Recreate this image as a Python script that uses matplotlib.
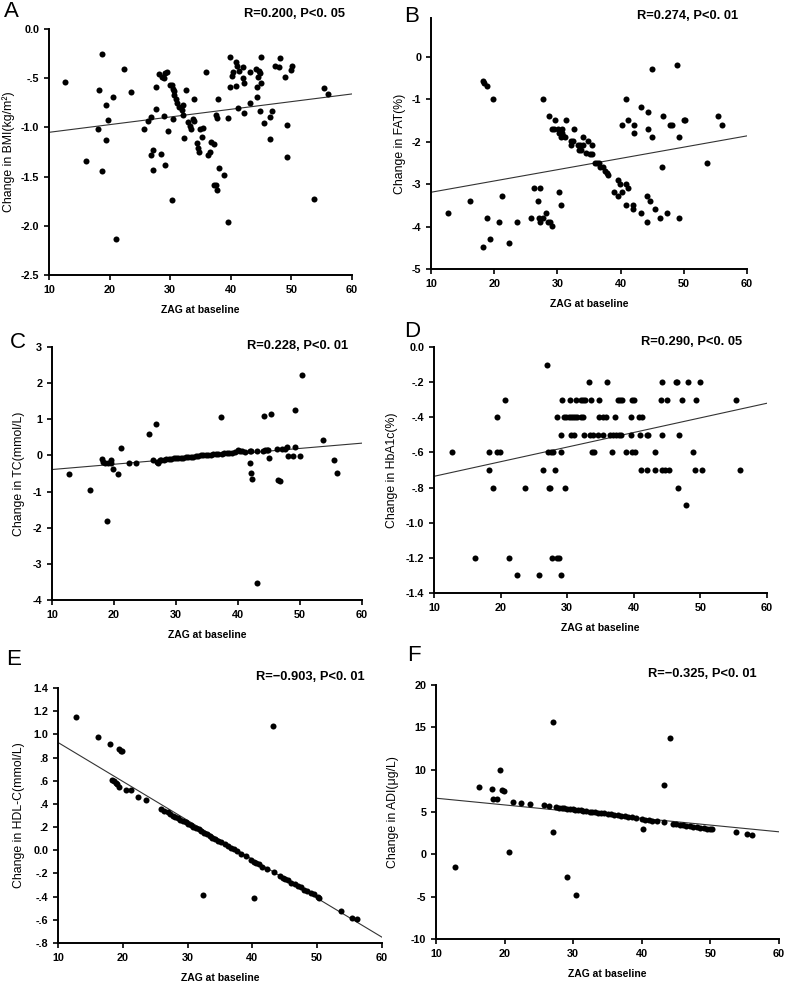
import numpy as np
import matplotlib
matplotlib.use("Agg")
import matplotlib.pyplot as plt

plt.rcParams['font.family'] = ['Liberation Sans', 'DejaVu Sans']

# ---- panel A: BMI ----
a_x = [12.7, 16.05, 18.2, 18.1, 18.75, 18.75, 19.35, 19.35, 19.8, 20.6, 21.1, 22.3, 23.6, 25.7,
       26.3, 26.9, 26.8, 27.2, 27.2, 27.7, 27.65, 28.15, 28.4, 28.6, 29.0, 29.2, 28.9, 29.2, 29.4,
       29.6, 30.0, 30.35, 30.45, 30.45, 30.35, 30.6, 30.7, 30.9, 31.2, 31.45, 31.9, 32.1, 32.1,
       32.3, 32.55, 33.0, 33.2, 33.5, 33.7, 33.9, 34.0, 34.5, 34.6, 34.8, 34.9, 35.4, 35.3, 35.95,
       36.2, 36.5, 36.8, 37.2, 37.2, 37.5, 37.7, 37.6, 37.7, 37.95, 38.05, 38.8, 39.6, 39.6, 39.8,
       39.8, 40.2, 40.4, 40.8, 40.9, 41.1, 41.2, 41.3, 41.95, 41.95, 42.1, 42.2, 43.2, 43.2, 44.15,
       44.3, 44.4, 44.5, 44.65, 44.8, 45.0, 45.0, 44.8, 45.4, 46.4, 46.5, 46.8, 47.35, 47.95, 48.2,
       48.95, 49.3, 49.3, 50.0, 50.1, 53.8, 55.4, 56.0]
a_y = [-0.54, -1.34, -0.62, -1.02, -0.25, -1.44, -0.77, -1.13, -0.92, -0.69, -2.13, -0.41, -0.64,
       -1.02, -0.93, -0.89, -1.28, -1.23, -1.43, -0.59, -0.81, -0.46, -1.27, -0.49, -0.88, -1.38,
       -0.50, -0.45, -0.44, -1.04, -0.57, -0.57, -0.61, -0.91, -1.74, -0.63, -0.67, -0.71, -0.75,
       -0.79, -0.82, -0.77, -0.87, -1.11, -0.62, -0.95, -0.99, -1.02, -0.91, -0.71, -0.93, -1.16,
       -1.21, -1.25, -1.02, -1.01, -1.10, -0.44, -1.28, -1.25, -1.15, -1.17, -1.59, -1.59, -1.64,
       -0.87, -0.90, -0.71, -1.41, -1.48, -0.90, -1.96, -0.28, -0.59, -0.48, -0.44, -0.58, -0.34,
       -0.38, -0.80, -0.43, -0.39, -0.50, -0.55, -0.85, -0.75, -0.44, -0.41, -0.69, -0.59, -0.49,
       -0.43, -0.83, -0.28, -0.55, -0.45, -0.96, -1.12, -0.89, -0.83, -0.38, -0.39, -0.29, -0.49,
       -0.98, -1.30, -0.42, -0.38, -1.73, -0.60, -0.66]
a_fit = [-1.05, -0.66]

# ---- panel B: FAT ----
b_x = [12.7, 16.1, 18.2, 18.4, 18.8, 18.2, 18.8, 19.4, 19.85, 20.7, 21.2, 22.4, 23.6, 25.75, 26.3,
       27.0, 27.1, 27.3, 27.3, 27.75, 27.75, 28.2, 28.5, 28.65, 28.9, 29.1, 29.2, 29.5, 29.6, 30.1,
       30.3, 30.5, 30.3, 30.5, 30.65, 30.75, 30.9, 31.2, 31.3, 32.1, 32.2, 32.4, 32.6, 33.2, 33.4,
       33.65, 33.8, 34.0, 34.1, 34.5, 34.9, 35.1, 35.4, 35.5, 35.9, 36.2, 36.6, 36.8, 37.2, 37.5,
       37.9, 38.0, 38.9, 39.6, 39.6, 39.9, 40.2, 40.2, 40.9, 40.8, 41.1, 40.8, 41.1, 41.9, 42.0,
       42.1, 42.1, 43.2, 43.2, 44.1, 44.2, 44.4, 44.3, 44.7, 45.0, 45.0, 45.4, 46.3, 46.6, 46.7,
       47.3, 47.8, 48.1, 48.9, 49.3, 49.3, 50.0, 50.25, 53.7, 55.4, 56.05]
b_y = [-3.69, -3.40, -0.57, -0.61, -0.68, -4.49, -3.80, -4.29, -0.99, -3.90, -3.29, -4.39, -3.90,
       -3.80, -3.10, -3.40, -3.80, -3.10, -3.90, -3.80, -0.99, -3.69, -3.90, -1.39, -3.90, -1.69,
       -3.99, -1.69, -1.48, -1.69, -3.19, -3.50, -1.79, -1.89, -1.69, -1.79, -1.87, -1.89, -1.48,
       -1.99, -2.08, -1.99, -1.69, -2.08, -2.19, -2.08, -2.19, -2.08, -1.89, -2.27, -1.98, -2.29,
       -2.29, -2.08, -2.49, -2.49, -2.49, -2.59, -2.59, -2.68, -2.74, -2.79, -3.19, -2.89, -3.29,
       -2.99, -3.19, -1.60, -0.99, -2.99, -3.10, -3.50, -1.48, -3.50, -3.58, -1.60, -1.79, -3.69,
       -1.19, -3.90, -3.29, -1.29, -1.69, -3.40, -1.89, -0.28, -3.58, -3.80, -2.59, -1.39, -3.69,
       -1.60, -1.60, -0.19, -1.89, -3.80, -1.48, -1.48, -2.49, -1.39, -1.60]
b_fit = [-3.19, -1.86]

# ---- panel C: TC ----
c_x = [12.7, 16.1, 18.1, 18.3, 18.5, 18.9, 19.1, 19.5, 19.5, 19.8, 20.6, 21.2, 22.4, 23.6, 25.7,
       26.3, 26.8, 26.9, 27.15, 27.4,
       27.6, 28.0, 28.4, 28.8, 29.2, 29.6, 30.0, 30.4, 30.8, 31.2, 31.6, 32.0, 32.4, 32.8, 33.2,
       33.6, 34.0, 34.4, 34.8, 35.2, 35.6, 36.0, 36.4, 36.8, 37.4, 37.8, 38.2, 38.6, 39.0, 39.5,
       37.2, 40.05, 40.3, 40.65, 41.1, 41.9, 42.0, 42.15, 42.2, 42.15, 43.1, 43.1, 44.0, 44.2,
       44.35, 44.6, 44.85, 45.0, 45.4, 46.3, 46.5, 46.8, 47.15, 47.5, 47.95, 48.1, 48.95, 49.25,
       49.25, 50.05, 50.3, 53.65, 55.5, 55.95]
c_y = [-0.51, -0.96, -0.09, -0.18, -0.22, -1.81, -0.20, -0.13, -0.20, -0.38, -0.52, 0.21, -0.20,
       -0.20, 0.58, -0.12, 0.86, -0.18, -0.22, -0.13,
       -0.13, -0.12, -0.11, -0.10, -0.09, -0.08, -0.08, -0.07, -0.06, -0.06, -0.05, -0.04, -0.03,
       -0.03, -0.02, -0.01, 0.00, 0.00, 0.01, 0.02, 0.02, 0.03, 0.04, 0.05, 0.05, 0.06, 0.07, 0.07,
       0.08, 0.09,
       1.06, 0.14, 0.11, 0.11, 0.10, 0.11, -0.20, -0.50, -0.65, 0.11, 0.13, -3.54, 0.13, 1.09,
       0.14, 0.14, 0.14, -0.06, 1.15, 0.18, -0.68, -0.70, 0.18, 0.18, 0.24, -0.01, -0.01, 0.24,
       1.26, -0.01, 2.23, 0.42, -0.13, -0.48]
c_fit = [-0.39, 0.34]

# ---- panel D: HbA1c ----
d_x = [12.75, 16.15, 18.2, 18.3, 18.8, 19.4, 19.5, 19.95, 20.7, 21.2, 22.4, 23.7, 25.7, 26.4, 26.9,
       27.1, 27.2, 27.4, 27.5, 27.7, 27.9, 28.2, 28.4, 28.5, 28.8, 29.0, 29.1, 29.1, 29.2, 29.5,
       29.7, 29.8, 30.2, 30.45, 30.5, 30.55, 30.85, 30.95, 31.2, 31.35, 31.45, 32.0, 32.1, 32.3,
       32.3, 32.45, 32.7, 33.25, 33.35, 33.55, 33.7, 33.8, 34.05, 34.6, 34.8, 34.8, 35.35, 35.45,
       35.9, 36.05, 36.4, 36.75, 36.95, 37.15, 37.35, 37.6, 37.8, 37.95, 38.1, 38.3, 38.8, 39.55,
       39.55, 39.8, 39.8, 40.05, 40.25, 40.85, 41.0, 41.1, 41.2, 41.95, 42.0, 42.15, 43.15, 43.15,
       44.05, 44.3, 44.3, 44.3, 44.75, 44.95, 45.25, 46.3, 46.5, 46.6, 46.8, 47.2, 47.9, 48.1,
       48.9, 49.2, 49.3, 50.0, 50.2, 55.4, 56.0]
d_y = [-0.6, -1.2, -0.7, -0.6, -0.8, -0.4, -0.6, -0.6, -0.3, -1.2, -1.3, -0.8, -1.3, -0.7, -0.1,
       -0.6, -0.8, -0.8, -0.6, -1.2, -0.6, -0.7, -0.4, -1.2, -1.2, -0.6, -1.3, -0.5, -0.3, -0.4,
       -0.8, -0.4, -0.4, -0.3, -0.5, -0.4, -0.4, -0.5, -0.4, -0.3, -0.4, -0.3, -0.4, -0.3, -0.4,
       -0.5, -0.3, -0.2, -0.5, -0.3, -0.6, -0.5, -0.6, -0.5, -0.3, -0.4, -0.4, -0.5, -0.4, -0.2,
       -0.5, -0.6, -0.5, -0.4, -0.5, -0.3, -0.5, -0.3, -0.5, -0.3, -0.6, -0.4, -0.5, -0.3, -0.6,
       -0.3, -0.6, -0.4, -0.5, -0.7, -0.4, -0.5, -0.7, -0.5, -0.6, -0.7, -0.3, -0.2, -0.5, -0.7,
       -0.7, -0.3, -0.7, -0.2, -0.2, -0.8, -0.5, -0.3, -0.9, -0.2, -0.6, -0.7, -0.3, -0.2, -0.7,
       -0.3, -0.7]
d_fit = [-0.736, -0.32]

# ---- panel E: HDL-C ----
e_x = [12.8, 16.1, 18.1, 19.35, 19.7, 19.9, 18.3, 18.6, 18.9, 19.1, 19.4, 20.5, 21.2, 22.4, 23.6,
       25.9, 26.4, 26.9, 27.3, 27.7, 28.1, 28.5, 28.9, 29.3, 29.7, 30.1, 30.5, 30.9, 31.3, 31.7,
       32.1, 32.6, 33.0, 33.4, 33.8, 34.2, 34.7, 35.2, 35.7, 36.2, 36.7, 37.2, 37.7, 38.2, 39.0,
       39.8, 40.2, 40.6, 41.0, 41.5, 42.2, 43.3, 44.3, 44.7, 45.1, 45.5, 46.0, 46.5, 47.0, 47.5,
       48.0, 48.4, 49.1, 49.5, 50.1, 50.3,
       32.4, 40.3, 43.2, 53.7, 55.4, 56.1]
e_y = [1.15, 0.98, 0.92, 0.87, 0.86, 0.86, 0.61, 0.60, 0.58, 0.57, 0.55, 0.52, 0.52, 0.46, 0.43,
       0.36, 0.34, 0.33, 0.31, 0.30, 0.29, 0.28, 0.26, 0.25, 0.24, 0.23, 0.22, 0.20, 0.19, 0.18,
       0.17, 0.15, 0.14, 0.12, 0.11, 0.10, 0.08, 0.07, 0.05, 0.04, 0.02, 0.01, -0.01, -0.03, -0.05,
       -0.08, -0.10, -0.11, -0.12, -0.14, -0.16, -0.19, -0.22, -0.24, -0.25, -0.26, -0.28, -0.29,
       -0.31, -0.32, -0.34, -0.35, -0.37, -0.38, -0.40, -0.41,
       -0.39, -0.41, 1.07, -0.52, -0.58, -0.59]
e_fit = [0.93, -0.75]

# ---- panel F: ADI ----
f_x = [12.8, 16.2, 18.2, 18.35, 18.9, 19.4, 19.6, 19.85, 20.7, 21.2, 22.4, 23.65, 25.8, 26.4, 27.0,
       27.05, 29.1, 30.4,
       27.5, 27.9, 28.3, 28.7, 29.1, 29.5, 29.9, 30.3, 30.7, 31.1, 31.5, 31.9, 32.4, 32.8, 33.2,
       33.6, 34.0, 34.5, 35.0, 35.5, 36.0, 36.5, 37.0, 37.5, 38.0, 38.5, 39.2, 40.0, 40.5, 41.0,
       41.5, 42.2, 44.5, 45.0, 45.5, 46.0, 46.5, 47.0, 47.5, 48.0, 48.5, 49.0, 49.5, 50.0, 50.3,
       40.2, 43.2, 43.2, 44.15, 53.7, 55.4, 56.1]
f_y = [-1.5, 7.93, 7.69, 6.51, 6.51, 9.97, 7.61, 7.53, 0.26, 6.24, 6.12, 5.92, 5.77, 5.65, 15.6,
       2.58, -2.65, -4.85,
       5.55, 5.52, 5.48, 5.45, 5.40, 5.35, 5.30, 5.27, 5.22, 5.20, 5.15, 5.12, 5.05, 5.00, 4.97,
       4.92, 4.88, 4.83, 4.78, 4.72, 4.68, 4.62, 4.57, 4.50, 4.44, 4.38, 4.30, 4.18, 4.10, 4.05,
       3.98, 3.90, 3.60, 3.55, 3.50, 3.45, 3.38, 3.33, 3.27, 3.20, 3.15, 3.10, 3.05, 3.00, 2.95,
       2.97, 8.2, 3.76, 13.7, 2.58, 2.42, 2.3]
f_fit = [6.63, 2.66]

fit_x = [10, 60]

W, H = 787, 988
fig = plt.figure(figsize=(W / 100, H / 100), dpi=100)


def make_ax(left, right, top, bottom):
    return fig.add_axes([left / W, 1 - bottom / H, (right - left) / W, (bottom - top) / H])


panels = [
    # x, y, fit, box(l, r, t, b), ylim, yticks, yticklabels, ylabel, label right edge px, letter, letter pos, R text, R pos
    (a_x, a_y, a_fit, (49, 352, 29, 275), (-2.5, 0), [0, -0.5, -1.0, -1.5, -2.0, -2.5],
     ["0.0", "-.5", "-1.0", "-1.5", "-2.0", "-2.5"], "Change in BMI(kg/m\u00b2)", 15,
     "A", (4, 1), "R=0.200, P<0. 05", (345, 8)),
    (b_x, b_y, b_fit, (431, 747, 18, 269), (-5, 0.92), [0, -1, -2, -3, -4, -5],
     ["0", "-1", "-2", "-3", "-4", "-5"], "Change in FAT(%)", 406,
     "B", (404, 6), "R=0.274, P<0. 01", (738, 10)),
    (c_x, c_y, c_fit, (52, 362, 347, 600), (-4, 3), [3, 2, 1, 0, -1, -2, -3, -4],
     ["3", "2", "1", "0", "-1", "-2", "-3", "-4"], "Change in TC(mmol/L)", 25,
     "C", (10, 332), "R=0.228, P<0. 01", (348, 340)),
    (d_x, d_y, d_fit, (434, 767, 347, 593), (-1.4, 0), [0, -0.2, -0.4, -0.6, -0.8, -1.0, -1.2, -1.4],
     ["0.0", "-.2", "-.4", "-.6", "-.8", "-1.0", "-1.2", "-1.4"], "Change in HbA1c(%)", 398,
     "D", (404, 321), "R=0.290, P<0. 05", (742, 336)),
    (e_x, e_y, e_fit, (58, 382, 688, 943), (-0.8, 1.4),
     [1.4, 1.2, 1.0, 0.8, 0.6, 0.4, 0.2, 0.0, -0.2, -0.4, -0.6, -0.8],
     ["1.4", "1.2", "1.0", ".8", ".6", ".4", ".2", "0.0", "-.2", "-.4", "-.6", "-.8"],
     "Change in HDL-C(mmol/L)", 25,
     "E", (6, 649), "R=\u22120.903, P<0. 01", (365, 671)),
    (f_x, f_y, f_fit, (436, 779, 685, 939), (-10, 20), [20, 15, 10, 5, 0, -5, -10],
     ["20", "15", "10", "5", "0", "-5", "-10"], "Change in ADI(\u03bcg/L)", 399,
     "F", (407, 645), "R=\u22120.325, P<0. 01", (757, 668)),
]

for (xs, ys, fit, box, ylim, yt, ytl, ylab, labx, letter, lpos, rtxt, rpos) in panels:
    l, r, t, b = box
    ax = make_ax(l, r, t, b)
    ax.scatter(xs, ys, s=19, color="black", linewidths=0, zorder=3, clip_on=False)
    ax.plot(fit_x, fit, color="#333333", lw=0.8, zorder=2)
    ax.set_xlim(10, 60)
    ax.set_ylim(*ylim)
    ax.set_xticks([10, 20, 30, 40, 50, 60])
    ax.set_xticklabels(["10", "20", "30", "40", "50", "60"], fontweight="bold", fontsize=7.8)
    ax.set_yticks(yt)
    ax.set_yticklabels(ytl, fontweight="bold", fontsize=7.8)
    for side in ["top", "right"]:
        ax.spines[side].set_visible(False)
    for side in ["left", "bottom"]:
        ax.spines[side].set_linewidth(1.4)
    ax.tick_params(axis="y", direction="out", length=3.5, width=1.2, pad=3.5)
    ax.tick_params(axis="x", direction="out", length=3.5, width=1.2, pad=4)
    ax.set_xlabel("ZAG at baseline", fontsize=7.5, fontweight="bold", labelpad=7)
    ax.set_ylabel(ylab, fontsize=8.8)
    ax.yaxis.set_label_coords((labx - l) / (r - l), 0.5)
    fig.text(lpos[0] / W, 1 - lpos[1] / H, letter, fontsize=16, ha="left", va="top")
    fig.text(rpos[0] / W, 1 - rpos[1] / H, rtxt, fontsize=9.3, fontweight="bold", ha="right", va="top")

fig.savefig("out.png", dpi=100)
